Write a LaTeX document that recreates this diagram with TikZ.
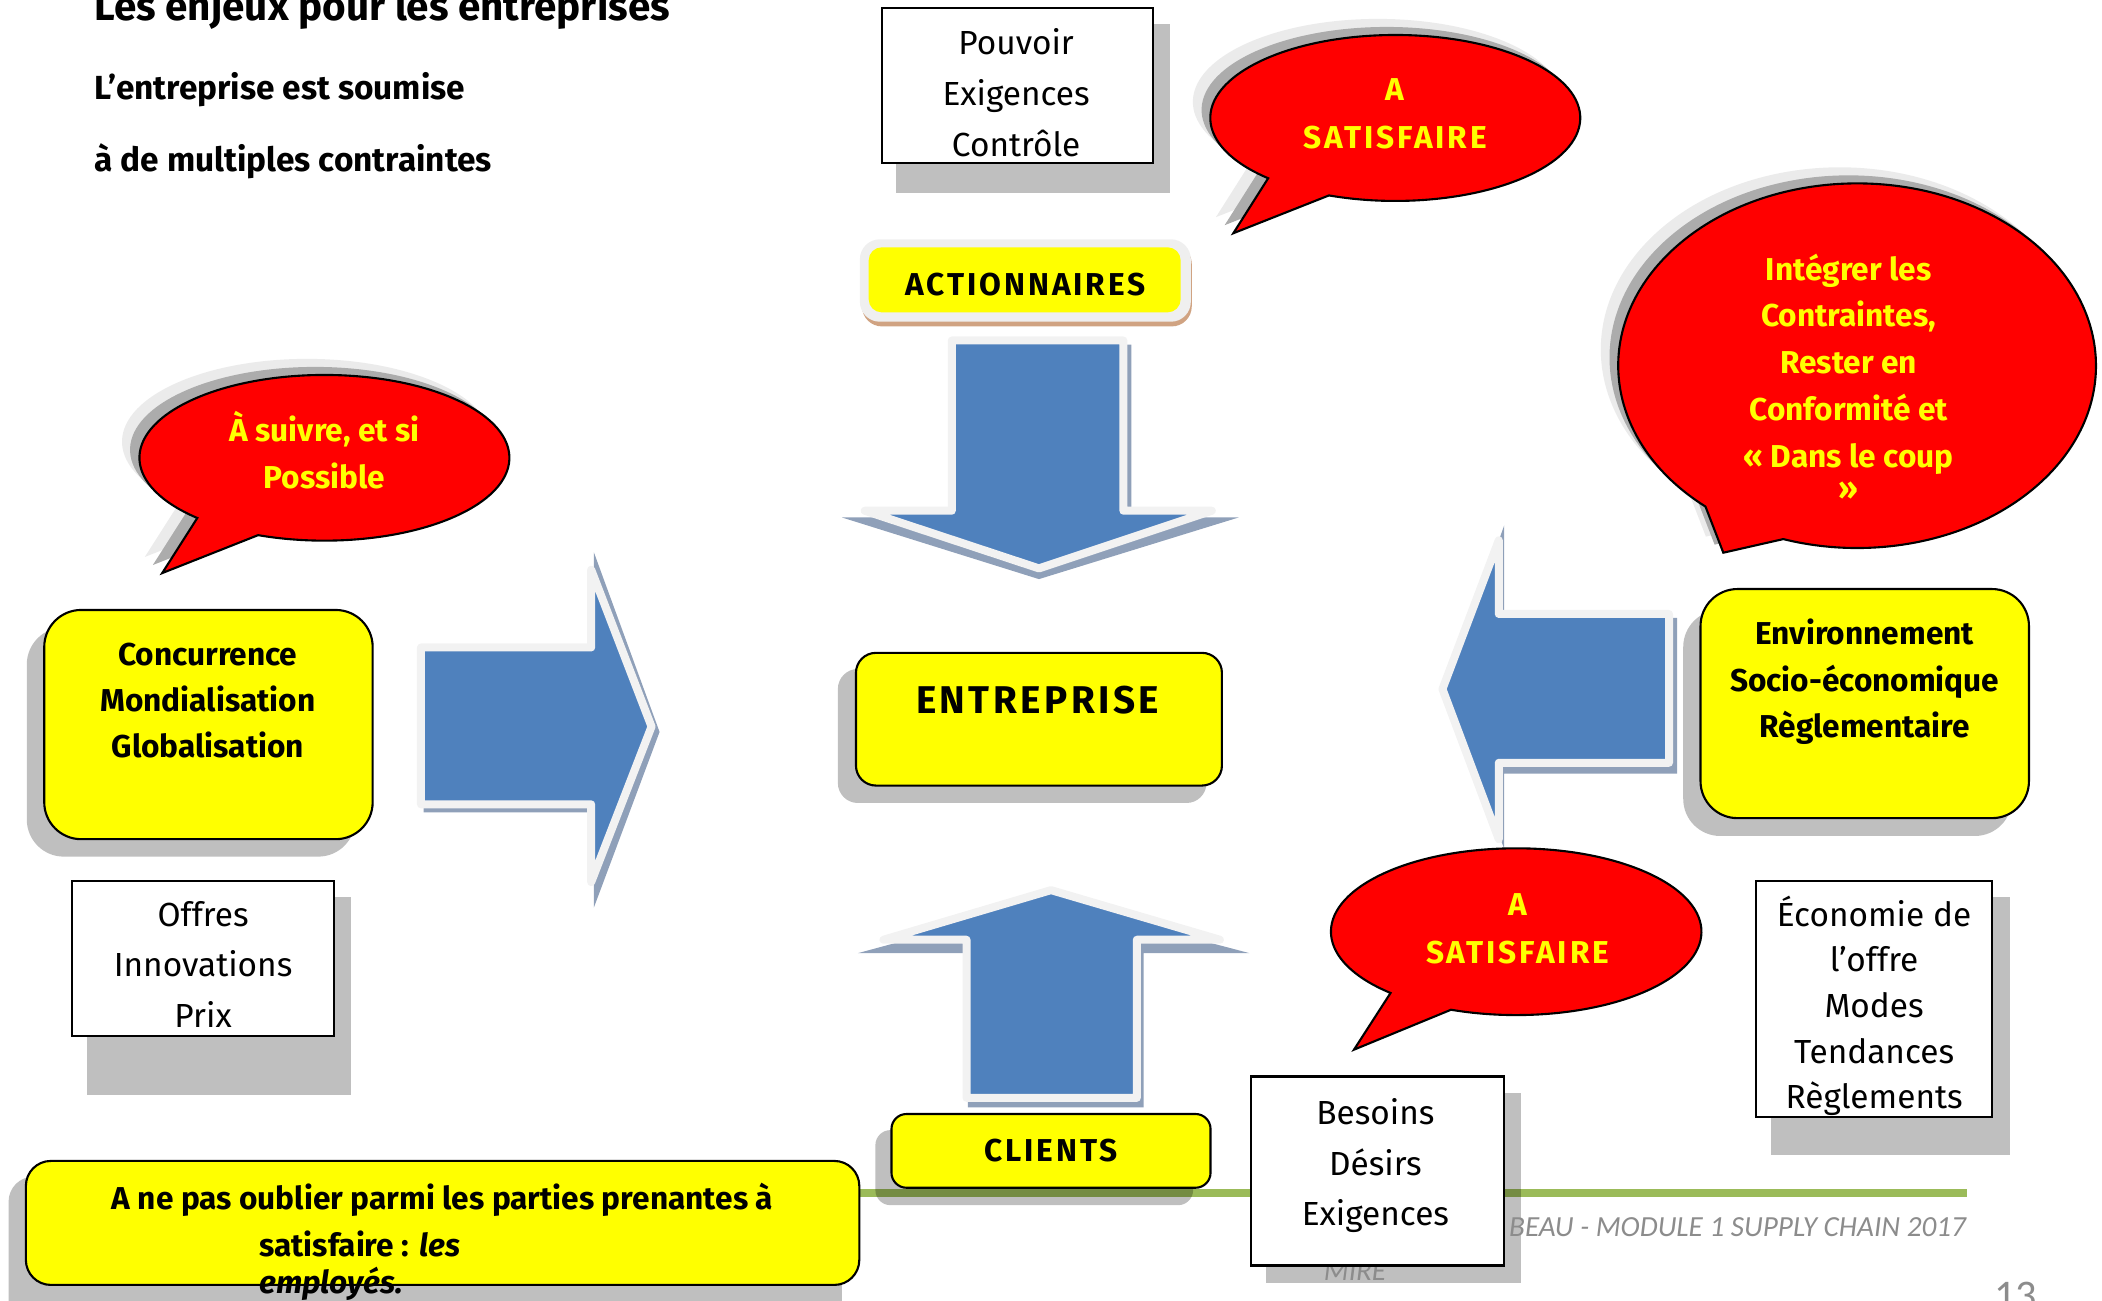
\documentclass[tikz,border=0pt]{standalone}
\usepackage{fontspec}
\setmainfont{Fira Sans}
\newfontfamily\capsfont{Fira Sans}[LetterSpace=9]
\newfontfamily\footfont{Carlito}

\definecolor{boxyellow}{HTML}{FFFF00}
\definecolor{bubblered}{HTML}{FF0000}
\definecolor{textyellow}{HTML}{FFFF00}
\definecolor{arrowblue}{HTML}{4F81BD}
\definecolor{arrowedge}{HTML}{F2F2F2}
\definecolor{arrowshade}{RGB}{143,160,185}
\definecolor{linegreen}{HTML}{9BBB59}
\definecolor{tanedge}{RGB}{208,163,130}
\definecolor{actedge}{HTML}{EFEFEF}
\definecolor{footgray}{HTML}{8C8C8C}

\tikzset{
  shadowfill/.style={fill=black, fill opacity=0.25},
  whitebox/.style={draw=black, line width=0.6pt, fill=white},
  yellowbox/.style={draw=black, line width=0.6pt, fill=boxyellow},
  bubble/.style={draw=black, line width=0.6pt, fill=bubblered},
  halo/.style={fill=gray!16},
  halodark/.style={fill=gray!65},
  blockarrow/.style={fill=arrowblue, draw=arrowedge, line width=0.8mm, line join=round},
  arrowshadow/.style={fill=arrowshade},
  titletxt/.style={font=\bfseries\fontsize{11.5}{14}\selectfont, inner sep=0pt},
  subtxt/.style={font=\bfseries\fontsize{9.5}{12}\selectfont, inner sep=0pt},
  plaintxt/.style={font=\fontsize{9.5}{14.4}\selectfont, align=center, inner sep=0pt},
  boldtxt/.style={font=\bfseries\fontsize{9}{13.2}\selectfont, align=center, inner sep=0pt},
  bubbletxt/.style={boldtxt, text=textyellow},
  capstxt/.style={font=\capsfont\bfseries\fontsize{9}{11}\selectfont, inner sep=0pt},
  foottxt/.style={font=\footfont\itshape\fontsize{8.3}{10}\selectfont, text=footgray, inner sep=0pt}
}

% speech bubble outline: centre x, centre y, radii, tail angles, tail tip
\newcommand{\bulle}[8]{(#7,#8) -- ([shift={(#1,#2)}]#5:#3 and #4) arc[start angle=#5, end angle=#6, x radius=#3, y radius=#4] -- cycle}

\begin{document}
\begin{tikzpicture}[x=0.13406mm, y=-0.13406mm]
\useasboundingbox (0,0) rectangle (1568,970);

%Titre
\node[titletxt, anchor=base west] (titre) at (70,15) {Les enjeux pour les entreprises};
\node[subtxt, anchor=base west] (soumise) at (70,74.6) {L’entreprise est soumise};
\node[subtxt, anchor=base west] (contraintes) at (70,128) {à de multiples contraintes};

%Actionnaires
\fill[shadowfill] (668.7,17.9) rectangle (872.4,143.7);
\draw[whitebox] (658,6.2) rectangle (859.8,121.3);
\node[plaintxt] (pouvoir) at (758,69.1) {Pouvoir\\Exigences\\Contrôle};

\fill[halo, shift={(-13,-12)}] \bulle{1040.8}{88}{138}{61.9}{133.4}{471}{920}{174};
\fill[halodark, shift={(-6.5,-6)}] \bulle{1040.8}{88}{138}{61.9}{133.4}{471}{920}{174};
\draw[bubble] \bulle{1040.8}{88}{138}{61.9}{133.4}{471}{920}{174};
\node[bubbletxt, font=\capsfont\bfseries\fontsize{9}{13.6}\selectfont] (satisfaireA) at (1040.8,85) {A\\SATISFAIRE};

\fill[tanedge, rounded corners=2mm] (643,182) rectangle (889,243.5);
\fill[actedge, rounded corners=2mm] (641.4,178.5) rectangle (888.3,240);
\fill[boxyellow, rounded corners=1.3mm] (648,184.5) rectangle (880.7,233);
\node[capstxt, anchor=base] (actionnaires) at (765,220.5) {ACTIONNAIRES};

%Environnement
\fill[halo, shift={(-13,-12)}] \bulle{1385.3}{272.8}{178.2}{136}{129.4}{468}{1285.5}{412.3};
\fill[halodark, shift={(-6.5,-6)}] \bulle{1385.3}{272.8}{178.2}{136}{129.4}{468}{1285.5}{412.3};
\draw[bubble] \bulle{1385.3}{272.8}{178.2}{136}{129.4}{468}{1285.5}{412.3};
\node[bubbletxt, font=\bfseries\fontsize{9}{13.3}\selectfont] (integrer) at (1379,281) {Intégrer les\\Contraintes,\\Rester en\\Conformité et\\« Dans le coup\\[-4pt]»};

%Concurrence
\fill[halo, shift={(-13,-12)}] \bulle{242}{341.5}{138}{61.8}{133.4}{471}{121}{427.5};
\fill[halodark, shift={(-7,-6)}] \bulle{242}{341.5}{138}{61.8}{133.4}{471}{121}{427.5};
\draw[bubble] \bulle{242}{341.5}{138}{61.8}{133.4}{471}{121}{427.5};
\node[bubbletxt, font=\bfseries\fontsize{9}{13.3}\selectfont] (suivre) at (242,336) {À suivre, et si\\Possible};

%Fleches
\fill[arrowshadow] (316,486) -- (443,486) -- (443,412) -- (492,546) -- (443,677) -- (443,606) -- (316,606) -- cycle;
\draw[blockarrow] (314,483) -- (441,483) -- (441,425) -- (486,542) -- (441,658) -- (441,600) -- (314,600) -- cycle;
\fill[arrowshadow] (1251,461) -- (1122,461) -- (1122,392) -- (1078,517) -- (1122,633) -- (1122,577) -- (1251,577) -- cycle;
\draw[blockarrow] (1245,458) -- (1118,458) -- (1118,403) -- (1076,514) -- (1118,626) -- (1118,569) -- (1245,569) -- cycle;
\fill[arrowshadow] (713,257) -- (844,257) -- (844,386) -- (924,386) -- (775,432) -- (628,386) -- (713,386) -- cycle;
\draw[blockarrow] (710,254) -- (838,254) -- (838,381) -- (904,381) -- (775,424) -- (645,381) -- (710,381) -- cycle;
\fill[arrowshadow] (722,826) -- (853,826) -- (853,711) -- (932,711) -- (784,672) -- (640,711) -- (722,711) -- cycle;
\draw[blockarrow] (721,819) -- (848,819) -- (848,701) -- (910,701) -- (784,664) -- (659,701) -- (721,701) -- cycle;

\fill[shadowfill, rounded corners=3.7mm] (20,468) rectangle (265,639);
\draw[yellowbox, rounded corners=3.7mm] (33,455) rectangle (278,626);
\node[boldtxt] (concurrence) at (155,522.6) {Concurrence\\Mondialisation\\Globalisation};

\fill[shadowfill, rounded corners=3.7mm] (1255.6,455) rectangle (1500.8,623.6);
\draw[yellowbox, rounded corners=3.7mm] (1268.5,439.4) rectangle (1513.5,610.3);
\node[boldtxt] (environnement) at (1391,508.8) {Environnement\\Socio-économique\\Règlementaire};

%Entreprise
\fill[shadowfill, rounded corners=2mm] (625,499) rectangle (900,599);
\draw[yellowbox, rounded corners=2mm] (638.5,487) rectangle (911.5,586);
\node[capstxt, font=\capsfont\bfseries\fontsize{11}{13}\selectfont, anchor=base] (entreprise) at (774,532) {ENTREPRISE};

\fill[shadowfill] (64.6,668.9) rectangle (261.6,816.8);
\draw[whitebox] (53.5,657.2) rectangle (249.2,772.8);
\node[plaintxt] (offres) at (151.5,719.3) {Offres\\Innovations\\Prix};

\fill[shadowfill] (1321,669) rectangle (1499,861.6);
\draw[whitebox] (1310,657.2) rectangle (1486,833);
\node[plaintxt, font=\fontsize{9.5}{13}\selectfont] (economie) at (1398,750.3) {Économie de\\l’offre\\Modes\\Tendances\\Règlements};

%Clients
\draw[linegreen, line width=0.74mm] (640,890) -- (1467,890);
\fill[shadowfill, rounded corners=1.5mm] (653,843) rectangle (890,899);
\draw[yellowbox, rounded corners=1.5mm] (665,831) rectangle (903,886);
\node[capstxt, anchor=base] (clients) at (784,866.5) {CLIENTS};

\draw[bubble] \bulle{1131}{695}{138.2}{62.2}{132.7}{470.6}{1010}{783};
\node[bubbletxt, font=\capsfont\bfseries\fontsize{9}{13.5}\selectfont] (satisfaireB) at (1132,693) {A\\SATISFAIRE};

\fill[shadowfill] (944,815) rectangle (1134.6,957);
\node[foottxt, anchor=base east] (pied) at (1467,922.5) {BEAU - MODULE 1 SUPPLY CHAIN 2017};
\node[foottxt, anchor=base west] (mire) at (987,955.3) {MIRE};
\draw[whitebox] (933,803) rectangle (1122,944);
\node[plaintxt] (besoins) at (1026,869.7) {Besoins\\Désirs\\Exigences};

%Employes
\fill[shadowfill, rounded corners=2.5mm] (6.4,877.7) rectangle (628,990);
\draw[yellowbox, rounded corners=2.5mm] (19.3,866) rectangle (641,958.5);
\node[boldtxt, anchor=base] (noteA) at (330,902.6) {A ne pas oublier parmi les parties prenantes à};
\node[boldtxt, anchor=base west] (noteB) at (193,937.5) {satisfaire : \textit{les}};
\node[boldtxt, anchor=base west] (noteC) at (193,965) {\textit{employés.}};

\node[font=\footfont\fontsize{12}{14}\selectfont, text=footgray, anchor=base west, inner sep=0pt] (page) at (1487,977) {13};
\end{tikzpicture}
\end{document}
